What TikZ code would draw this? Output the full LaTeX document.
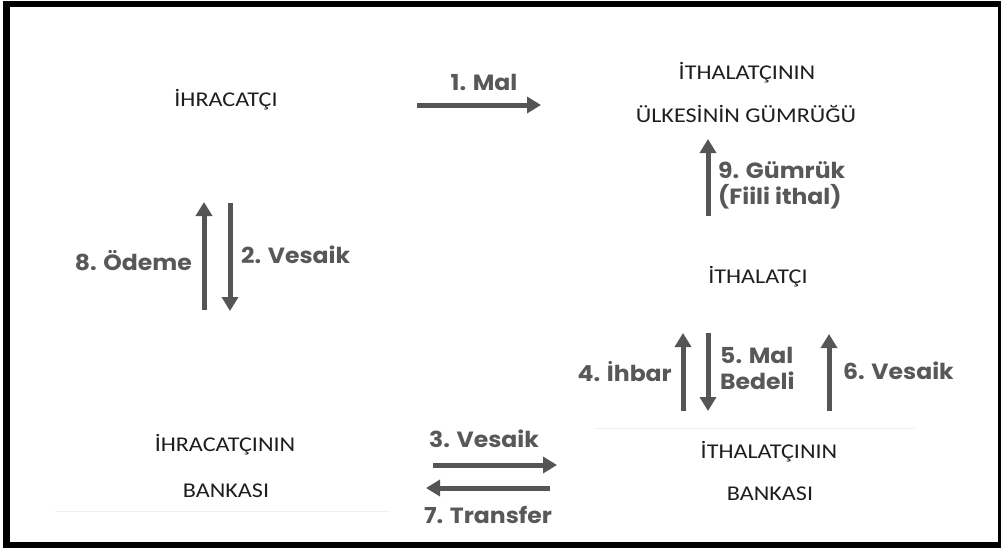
\documentclass[tikz,border=0pt]{standalone}
\usepackage{fontspec}
\setmainfont{Carlito}[FakeStretch=1.15]
\newfontfamily\lblfont{Poppins}[FakeStretch=1.07]
\usetikzlibrary{arrows.meta}
\definecolor{arrgray}{HTML}{555555}
\definecolor{lblgray}{HTML}{585858}
\definecolor{enttext}{HTML}{1E1E1E}
\definecolor{faint}{HTML}{F0F0F0}
\tikzset{
  ent/.style={font=\fontsize{21}{24}\selectfont, text=enttext, inner sep=0pt, anchor=center},
  lbl/.style={font=\lblfont\bfseries\fontsize{22}{26}\selectfont, text=lblgray, inner sep=0pt, align=left},
  flow/.style={draw=arrgray, line width=5pt, -{Triangle[width=16pt,length=14pt]}},
  faintline/.style={draw=faint, line width=1pt}
}
\begin{document}
\begin{tikzpicture}[x=1pt,y=-1pt]
\useasboundingbox (0,0) rectangle (1001,549);
\fill[white] (0,0) rectangle (1001,549);
\draw[line width=6.5pt] (6.5,4) rectangle (1001,545);

% entities
\node[ent] (exp) at (226,100) {İHRACATÇI};
\node[ent] (cus1) at (747,73) {İTHALATÇININ};
\node[ent] (cus2) at (746,114) {ÜLKESİNİN GÜMRÜĞÜ};
\node[ent] (imp) at (758,277) {İTHALATÇI};
\node[ent] (eb1) at (225,445) {İHRACATÇININ};
\node[ent] (eb2) at (226,491) {BANKASI};
\node[ent] (ib1) at (769,452) {İTHALATÇININ};
\node[ent] (ib2) at (770,494) {BANKASI};

% faint separators
\coordinate (s1a) at (55,511); \coordinate (s1b) at (390,511);
\coordinate (s2a) at (595,428); \coordinate (s2b) at (915,428);
\draw[faintline] (s1a) -- (s1b);
\draw[faintline] (s2a) -- (s2b);

% arrow end points
\coordinate (a1s) at (417,105); \coordinate (a1e) at (541,105);
\coordinate (a8s) at (204,310); \coordinate (a8e) at (204,202);
\coordinate (a2s) at (230,203); \coordinate (a2e) at (230,311);
\coordinate (a9s) at (708,216); \coordinate (a9e) at (708,139);
\coordinate (a4s) at (683,411); \coordinate (a4e) at (683,333);
\coordinate (a5s) at (708,333); \coordinate (a5e) at (708,411);
\coordinate (a6s) at (829,411); \coordinate (a6e) at (829,334);
\coordinate (a3s) at (433,465); \coordinate (a3e) at (557,465);
\coordinate (a7s) at (550,488); \coordinate (a7e) at (426,488);

\draw[flow] (a1s) -- (a1e);
\draw[flow] (a8s) -- (a8e);
\draw[flow] (a2s) -- (a2e);
\draw[flow] (a9s) -- (a9e);
\draw[flow] (a4s) -- (a4e);
\draw[flow] (a5s) -- (a5e);
\draw[flow] (a6s) -- (a6e);
\draw[flow] (a3s) -- (a3e);
\draw[flow] (a7s) -- (a7e);

% labels
\node[lbl, anchor=center] (l1) at (484,82) {1. Mal};
\node[lbl, anchor=east] (l8) at (192,261) {8. Ödeme};
\node[lbl, anchor=west] (l2) at (241,255) {2. Vesaik};
\node[lbl, anchor=west] (l9) at (718,185) {9. Gümrük\\(Fiili ithal)};
\node[lbl, anchor=east] (l4) at (672,372) {4. İhbar};
\node[lbl, anchor=west] (l5) at (720,368) {5. Mal\\Bedeli};
\node[lbl, anchor=west] (l6) at (843,371) {6. Vesaik};
\node[lbl, anchor=center] (l3) at (484,439) {3. Vesaik};
\node[lbl, anchor=center] (l7) at (488,515) {7. Transfer};
\end{tikzpicture}
\end{document}
